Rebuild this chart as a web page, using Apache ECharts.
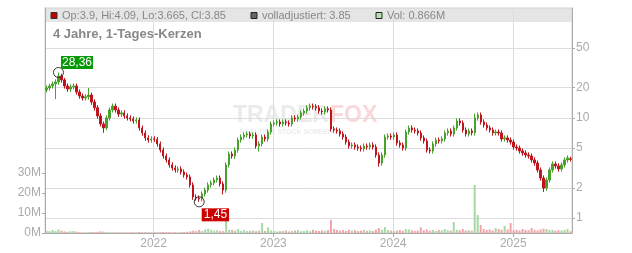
<!DOCTYPE html>
<html><head><meta charset="utf-8">
<script src="https://cdn.jsdelivr.net/npm/echarts@6/dist/echarts.min.js"></script>
<style>html,body{margin:0;padding:0;background:#fff}#c{width:632px;height:253px}</style>
</head><body><div id="c"></div>
<script>
// Price candles (one candle per ~9 days)
const opens=[
19.0,19.9,20.8,21.8,22.8,26.2,23.9,20.8,19.4,20.4,
20.8,18.1,16.5,15.8,16.2,16.9,14.4,12.6,10.45,8.69,
7.93,9.98,12.0,13.1,12.0,10.9,11.2,10.45,9.98,9.75,
9.31,9.53,7.93,7.07,6.30,6.01,6.16,6.10,5.49,4.78,
4.16,3.80,3.39,3.16,3.02,3.09,2.88,2.69,2.57,2.14,
1.62,1.58,1.55,1.74,1.90,2.14,2.24,2.40,2.51,2.19,
1.90,3.39,4.36,4.16,4.78,6.01,6.44,6.75,6.91,6.59,
6.75,5.24,5.50,6.44,6.16,7.23,8.69,8.89,9.10,8.69,
9.10,8.90,8.69,9.98,9.75,10.2,11.2,11.7,12.6,13.1,
12.9,12.6,11.7,11.5,12.3,12.0,7.75,7.57,7.40,6.91,
6.44,5.74,5.24,5.36,5.12,5.00,4.90,5.24,5.12,5.36,
5.12,4.26,3.54,4.26,6.44,6.59,6.44,6.75,5.61,5.36,
5.00,7.23,7.93,7.57,7.40,7.07,6.30,5.88,4.78,4.67,
5.49,6.01,5.90,6.16,7.07,7.40,6.91,7.93,9.31,8.89,
7.57,6.91,7.40,7.10,9.98,10.7,9.10,8.49,7.93,7.57,
7.07,7.23,7.07,6.16,6.30,6.01,5.74,5.12,5.00,4.67,
4.46,4.26,4.16,3.80,3.54,3.02,2.51,1.99,2.40,3.02,
3.46,3.31,3.09,3.39,3.80,3.90];
const closes=[
19.9,20.8,21.8,22.8,26.2,23.9,20.8,19.4,20.4,20.8,
18.1,16.5,15.8,16.2,16.9,14.4,12.6,10.45,8.69,7.93,
9.98,12.0,13.1,12.0,10.9,11.2,10.45,9.98,9.75,9.31,
9.53,7.93,7.07,6.30,6.01,6.16,6.10,5.49,4.78,4.16,
3.80,3.39,3.16,3.02,3.09,2.88,2.69,2.57,2.14,1.62,
1.58,1.55,1.74,1.90,2.14,2.24,2.40,2.51,2.19,1.90,
3.39,4.36,4.16,4.78,6.01,6.44,6.75,6.91,6.59,6.75,
5.24,5.50,6.44,6.16,7.23,8.69,8.89,9.10,8.69,9.10,
8.90,8.69,9.98,9.75,10.2,11.2,11.7,12.6,13.1,12.9,
12.6,11.7,11.5,12.3,12.0,7.75,7.57,7.40,6.91,6.44,
5.74,5.24,5.36,5.12,5.00,4.90,5.24,5.12,5.36,5.12,
4.26,3.54,4.26,6.44,6.59,6.44,6.75,5.61,5.36,5.00,
7.23,7.93,7.57,7.40,7.07,6.30,5.88,4.78,4.67,5.49,
6.01,5.90,6.16,7.07,7.40,6.91,7.93,9.31,8.89,7.57,
6.91,7.40,7.10,9.98,10.7,9.10,8.49,7.93,7.57,7.07,
7.23,7.07,6.16,6.30,6.01,5.74,5.12,5.00,4.67,4.46,
4.26,4.16,3.80,3.54,3.02,2.51,1.99,2.40,3.02,3.46,
3.31,3.09,3.39,3.80,3.98,3.85];
const lows=[
17.9,18.7,19.6,15.4,21.4,22.5,19.6,18.2,18.2,19.2,
17.0,15.5,14.9,14.9,15.2,13.5,11.8,9.8,8.2,7.1,
7.5,9.4,11.3,11.3,10.2,10.2,9.8,9.4,9.2,8.75,
8.75,7.45,6.65,5.9,5.65,5.65,5.75,5.15,4.5,3.9,
3.57,3.19,2.97,2.84,2.84,2.71,2.53,2.42,2.01,1.52,
1.49,1.45,1.47,1.64,1.79,2.01,2.11,2.26,2.06,1.72,
1.79,3.19,3.91,3.91,4.49,5.65,6.05,6.35,6.19,6.19,
4.93,4.6,5.17,5.79,5.79,6.8,8.17,8.36,8.17,8.17,
8.37,8.17,8.17,9.17,9.17,9.6,10.5,11.0,11.8,12.1,
11.8,11.0,10.8,10.8,11.3,7.29,7.12,6.96,6.5,6.05,
5.4,4.93,4.93,4.81,4.7,4.61,4.61,4.81,4.81,4.81,
4.0,3.25,3.33,4.0,6.05,6.05,6.05,5.27,5.04,4.7,
4.7,6.8,7.12,6.96,6.65,5.92,5.53,4.49,4.39,4.39,
5.16,5.55,5.55,5.79,6.65,6.5,6.5,7.45,8.36,7.12,
6.5,6.5,6.67,6.67,9.38,8.55,7.98,7.45,7.12,6.65,
6.65,6.65,5.79,5.79,5.65,5.4,4.81,4.7,4.39,4.19,
4.0,3.91,3.57,3.33,2.84,2.36,1.82,1.87,2.26,2.84,
3.11,2.9,2.9,3.19,3.57,3.665];
const highs=[
21.1,22.0,23.1,24.2,28.36,27.5,25.0,22.0,21.6,22.0,
22.0,19.2,17.5,17.2,19.9,17.9,15.3,13.4,11.1,9.2,
10.6,12.7,13.9,13.9,12.7,11.9,11.9,11.1,10.6,10.3,
10.1,10.1,8.4,7.5,6.7,6.55,6.55,6.45,5.8,5.05,
4.4,4.03,3.6,3.35,3.28,3.28,3.05,2.85,2.72,2.27,
1.72,1.68,1.84,2.01,2.27,2.37,2.54,2.66,2.66,2.32,
3.59,4.62,4.62,5.07,6.37,6.83,7.16,7.32,7.32,7.16,
7.16,5.83,6.83,6.83,7.66,9.21,9.42,9.65,9.65,9.65,
9.65,9.43,10.6,10.6,10.8,11.9,12.4,13.4,13.9,13.9,
13.7,13.4,12.4,13.0,13.0,12.7,8.22,8.02,7.84,7.32,
6.83,6.08,5.68,5.68,5.43,5.3,5.55,5.55,5.68,5.68,
5.43,4.52,4.52,6.83,6.99,6.99,7.16,7.16,5.95,5.68,
7.66,8.41,8.41,8.02,7.84,7.49,6.68,6.23,5.07,5.82,
6.37,6.37,6.53,7.49,7.84,7.84,8.41,9.87,9.87,9.42,
8.02,7.84,7.84,11.0,11.3,11.3,9.65,9.0,8.41,8.02,
7.66,7.66,7.49,6.68,6.68,6.37,6.08,5.43,5.3,4.95,
4.73,4.52,4.41,4.03,3.75,3.2,2.66,2.54,3.2,3.67,
3.67,3.51,3.59,4.03,4.22,4.09];
// Volume in millions
const volumes=[
1.2,0.9,1.5,1.0,1.8,1.1,0.8,0.6,0.9,1.0,0.7,
0.4,0.3,0.3,0.4,0.5,0.4,0.6,0.8,0.7,0.5,0.4,0.3,0.3,0.4,0.3,0.3,0.3,0.4,0.3,0.3,0.5,0.4,0.4,0.3,0.3,
0.4,0.3,0.4,0.5,0.4,0.4,0.3,0.4,0.3,0.4,0.5,0.6,0.8,1.2,0.9,
1.5,1.0,1.8,2.2,1.6,1.2,1.4,1.0,0.9,
7.5,
1.5,1.5,1.2,2.0,1.0,1.4,0.9,1.0,1.3,0.9,1.2,5.0,1.0,2.8,1.2,
1.0,0.8,0.9,1.0,1.3,0.8,1.0,1.2,1.5,0.9,1.1,1.4,1.0,1.6,1.2,1.0,1.3,1.1,1.5,
6.5,
2.0,1.5,1.2,1.4,1.0,1.6,1.2,1.4,1.0,1.2,1.5,1.1,1.3,1.0,1.8,2.5,1.6,3.0,1.5,1.2,
1.0,1.2,1.5,1.1,2.0,1.8,1.3,1.0,1.2,2.8,1.4,1.8,1.2,1.5,1.0,1.6,1.3,2.0,1.4,1.2,5.5,1.6,1.4,2.0,1.2,1.4,1.1,
24,
9.0,
4.0,2.0,1.5,1.8,1.3,2.4,2.0,1.6,3.5,1.8,5.0,1.4,1.6,1.2,2.0,1.5,1.4,2.5,1.6,1.3,1.8,2.2,2.0,1.5,1.6,1.2,1.4,1.3,1.5,2.0,0.87];
const priceTicks=[1,2,5,10,20,50];
const volumeTicks=[0,10,20,30];
const yearTicks=['2022-01-01','2023-01-01','2024-01-01','2025-01-01'];
const axisStart='2021-02-04', axisEnd='2025-06-29';
const firstCandle='2021-02-06', candleStepDays=9.13;
const dates=opens.map((_,i)=>new Date(Date.parse(firstCandle)+Math.round(i*candleStepDays)*864e5).toISOString().slice(0,10));
const highPoint={index:4,value:28.36,text:'28,36'};
const lowPoint={index:51,value:1.45,text:'1,45'};
const headerTexts=['Op:3.9, Hi:4.09, Lo:3.665, Cl:3.85','volladjustiert: 3.85','Vol: 0.866M'];
const titleText='4 Jahre, 1-Tages-Kerzen';

const UP='#47a12b', DOWN='#c0141d';
const FONT='"Liberation Sans", Arial, sans-serif';
const candleData=opens.map((o,i)=>[o,closes[i],Math.min(lows[i],o,closes[i]),Math.max(highs[i],o,closes[i])]);
const volData=volumes.map((v,i)=>({value:v,itemStyle:{color:closes[i]>=opens[i]?'#a6d9a2':'#f2a3aa'}}));
const yearTs=yearTicks.map(d=>Date.parse(d));

const chart=echarts.init(document.getElementById('c'),null,{renderer:'canvas'});
const lbl={fontFamily:FONT,fontSize:12,color:'#aaaaaa'};
chart.setOption({
  animation:false,
  grid:{left:45,right:60,top:8,bottom:20,show:true,borderColor:'#d4d4d4',borderWidth:1,backgroundColor:'transparent'},
  xAxis:[
    {type:'category',data:dates,show:false,boundaryGap:true},
    {type:'value',min:Date.parse(axisStart),max:Date.parse(axisEnd),position:'bottom',
     axisLine:{show:true,lineStyle:{color:'#aaaaaa'}},
     axisTick:{show:true,length:4,lineStyle:{color:'#aaaaaa'},customValues:yearTs},
     axisLabel:Object.assign({},lbl,{margin:5,customValues:yearTs,formatter:v=>String(new Date(v).getUTCFullYear())}),
     splitLine:{show:true,lineStyle:{color:'#dddddd'}}}
  ],
  yAxis:[
    {type:'log',logBase:10,position:'right',min:0.708,max:125,
     axisLine:{show:true,lineStyle:{color:'#aaaaaa'}},
     axisTick:{show:true,length:3,lineStyle:{color:'#aaaaaa'},customValues:priceTicks},
     axisLabel:Object.assign({},lbl,{margin:4,customValues:priceTicks,formatter:v=>String(v)}),
     splitLine:{show:true,lineStyle:{color:'#dddddd'}}},
    {type:'value',position:'left',min:0,max:112.5,
     axisLine:{show:true,lineStyle:{color:'#aaaaaa'}},
     axisTick:{show:true,length:3,lineStyle:{color:'#aaaaaa'},customValues:volumeTicks},
     axisLabel:Object.assign({},lbl,{margin:4,customValues:volumeTicks,formatter:v=>v+'M'}),
     splitLine:{show:false}}
  ],
  series:[
    {type:'bar',xAxisIndex:0,yAxisIndex:1,data:volData,barWidth:2,z:1},
    {type:'candlestick',xAxisIndex:0,yAxisIndex:0,data:candleData,barWidth:1.8,z:3,
     itemStyle:{color:UP,color0:DOWN,borderColor:UP,borderColor0:DOWN,borderWidth:1},
     markPoint:{symbol:'circle',symbolSize:10,silent:true,
       itemStyle:{color:'rgba(0,0,0,0)',borderColor:'#333',borderWidth:1},
       data:[
        {coord:[dates[highPoint.index],highPoint.value],label:{show:true,formatter:highPoint.text,position:[8,-11],backgroundColor:'#079a07',color:'#fff',fontFamily:FONT,fontSize:12,lineHeight:13,padding:[0,1,0,1]}},
        {coord:[dates[lowPoint.index],lowPoint.value],label:{show:true,formatter:lowPoint.text,position:[8,12],backgroundColor:'#cc0000',color:'#fff',fontFamily:FONT,fontSize:12,lineHeight:13,padding:[0,2,0,2]}}
       ]}}
  ],
  graphic:[
    {type:'rect',z:-10,shape:{x:45,y:8,width:527,height:14},style:{fill:'#e5e5e5'}},
    {type:'rect',z:10,shape:{x:51,y:12.5,width:6,height:6},style:{fill:'#c00000',stroke:'#333',lineWidth:1}},
    {type:'text',z:10,x:62,y:15.5,style:{text:headerTexts[0],font:'11px '+FONT,fill:'#888',verticalAlign:'middle'}},
    {type:'rect',z:10,shape:{x:251,y:12.5,width:6,height:6},style:{fill:'#666',stroke:'#222',lineWidth:1}},
    {type:'text',z:10,x:262,y:15.5,style:{text:headerTexts[1],font:'11px '+FONT,fill:'#888',verticalAlign:'middle'}},
    {type:'rect',z:10,shape:{x:376,y:12.5,width:6,height:6},style:{fill:'#b4e3b0',stroke:'#222',lineWidth:1}},
    {type:'text',z:10,x:387,y:15.5,style:{text:headerTexts[2],font:'11px '+FONT,fill:'#888',verticalAlign:'middle'}},
    {type:'text',z:10,x:53,y:34,style:{text:titleText,font:'bold 13px '+FONT,fill:'#888',verticalAlign:'middle'}},
    {type:'text',z:-5,x:233,y:116,style:{text:'TRADER',font:'bold 23px '+FONT,fill:'#ebebeb',verticalAlign:'middle'}},
    {type:'text',z:-5,x:330,y:116,style:{text:'FOX',font:'bold 23px '+FONT,fill:'#f9d9d9',verticalAlign:'middle'}},
    {type:'text',z:-5,x:240,y:132,style:{text:'REALTIME STOCK SCREENING',font:'bold 7px '+FONT,fill:'#ececec',verticalAlign:'middle'}}
  ]
});
</script></body></html>
